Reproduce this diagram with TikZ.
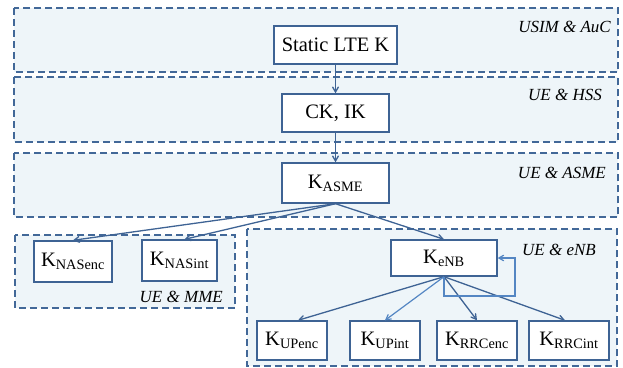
\documentclass[tikz,border=0pt]{standalone}
\usepackage{amsmath}
\usepackage{fontspec}
\setmainfont{Liberation Serif}
\usepackage{tikz}
\usetikzlibrary{arrows}
\definecolor{bandfill}{RGB}{238,245,249}
\definecolor{bandline}{RGB}{66,104,152}
\definecolor{keyline}{RGB}{62,99,148}
\definecolor{lightblue}{RGB}{84,134,195}
\tikzset{
    every node/.append style={font=\fontsize{20.5}{23}\selectfont},
    band/.style={draw=bandline, fill=bandfill, line width=1.4pt, dash pattern=on 7pt off 4pt},
    keybox/.style={draw=keyline, fill=white, line width=1.4pt, inner sep=0pt, minimum height=39pt},
    owner/.style={font=\fontsize{17}{20}\selectfont\itshape, anchor=east, inner sep=0pt},
    arrow/.style={draw=keyline, line width=1.3pt, >=angle 60, ->},
    lightarrow/.style={draw=lightblue, line width=1.2pt, >=angle 60, ->},
}

\begin{document}
\begin{tikzpicture}[x=1pt,y=-1pt]
  \useasboundingbox (0,0) rectangle (623,367);

  % bands
  \draw[band] (14,8) rectangle (618,72);
  \draw[band] (14,77) rectangle (618,142);
  \draw[band] (14,153) rectangle (618,217);
  \draw[band] (15,235) rectangle (235,308);
  \draw[band] (247,229) rectangle (617,366);
  \node[owner] (usim) at (611,27) {USIM \& AuC};
  \node[owner] (hss) at (602,95) {UE \& HSS};
  \node[owner] (asmelbl) at (606,173) {UE \& ASME};
  \node[owner] (mme) at (223,297) {UE \& MME};
  \node[owner] (enblbl) at (596,250) {UE \& eNB};

  % keys
  \node[keybox, minimum width=123pt, minimum height=38pt] (sk) at (335.5,45) {Static LTE K};
  \node[keybox, minimum width=107pt, minimum height=38pt] (ckik) at (335.5,113) {CK, IK};
  \node[keybox, minimum width=107pt, minimum height=40pt] (asme) at (335.5,183) {K$_\text{ASME}$};
  \node[keybox, minimum width=78pt, minimum height=41pt] (nasenc) at (73,261.5) {K$_\text{NASenc}$};
  \node[keybox, minimum width=75pt, minimum height=41pt] (nasint) at (179.5,260.5) {K$_\text{NASint}$};
  \node[keybox, minimum width=106pt, minimum height=36pt] (enb) at (444,258) {K$_\text{eNB}$};
  \node[keybox, minimum width=70pt] (upenc) at (292,340.5) {K$_\text{UPenc}$};
  \node[keybox, minimum width=70pt] (upint) at (385,340.5) {K$_\text{UPint}$};
  \node[keybox, minimum width=80pt] (rrcenc) at (477,340.5) {K$_\text{RRCenc}$};
  \node[keybox, minimum width=80pt] (rrcint) at (569,340.5) {K$_\text{RRCint}$};
  \coordinate (loop) at (515,296);

  % edges
  \draw[arrow] (sk) -- (ckik);
  \draw[arrow] (ckik) -- (asme);
  \draw[arrow] (asme.south) -- (nasenc.north);
  \draw[arrow] (asme.south) -- ([xshift=5pt]nasint.north);
  \draw[arrow] (asme.south) -- (enb.north);
  \draw[arrow] (enb.south) -- ([xshift=6pt]upenc.north);
  \draw[lightarrow] (enb.south) -- (upint.north);
  \draw[arrow] (enb.south) -- (rrcenc.north);
  \draw[arrow] (enb.south) -- ([xshift=-4pt]rrcint.north);
  \draw[lightarrow] (enb.south) |- (loop) |- (enb.east);
\end{tikzpicture}
\end{document}
